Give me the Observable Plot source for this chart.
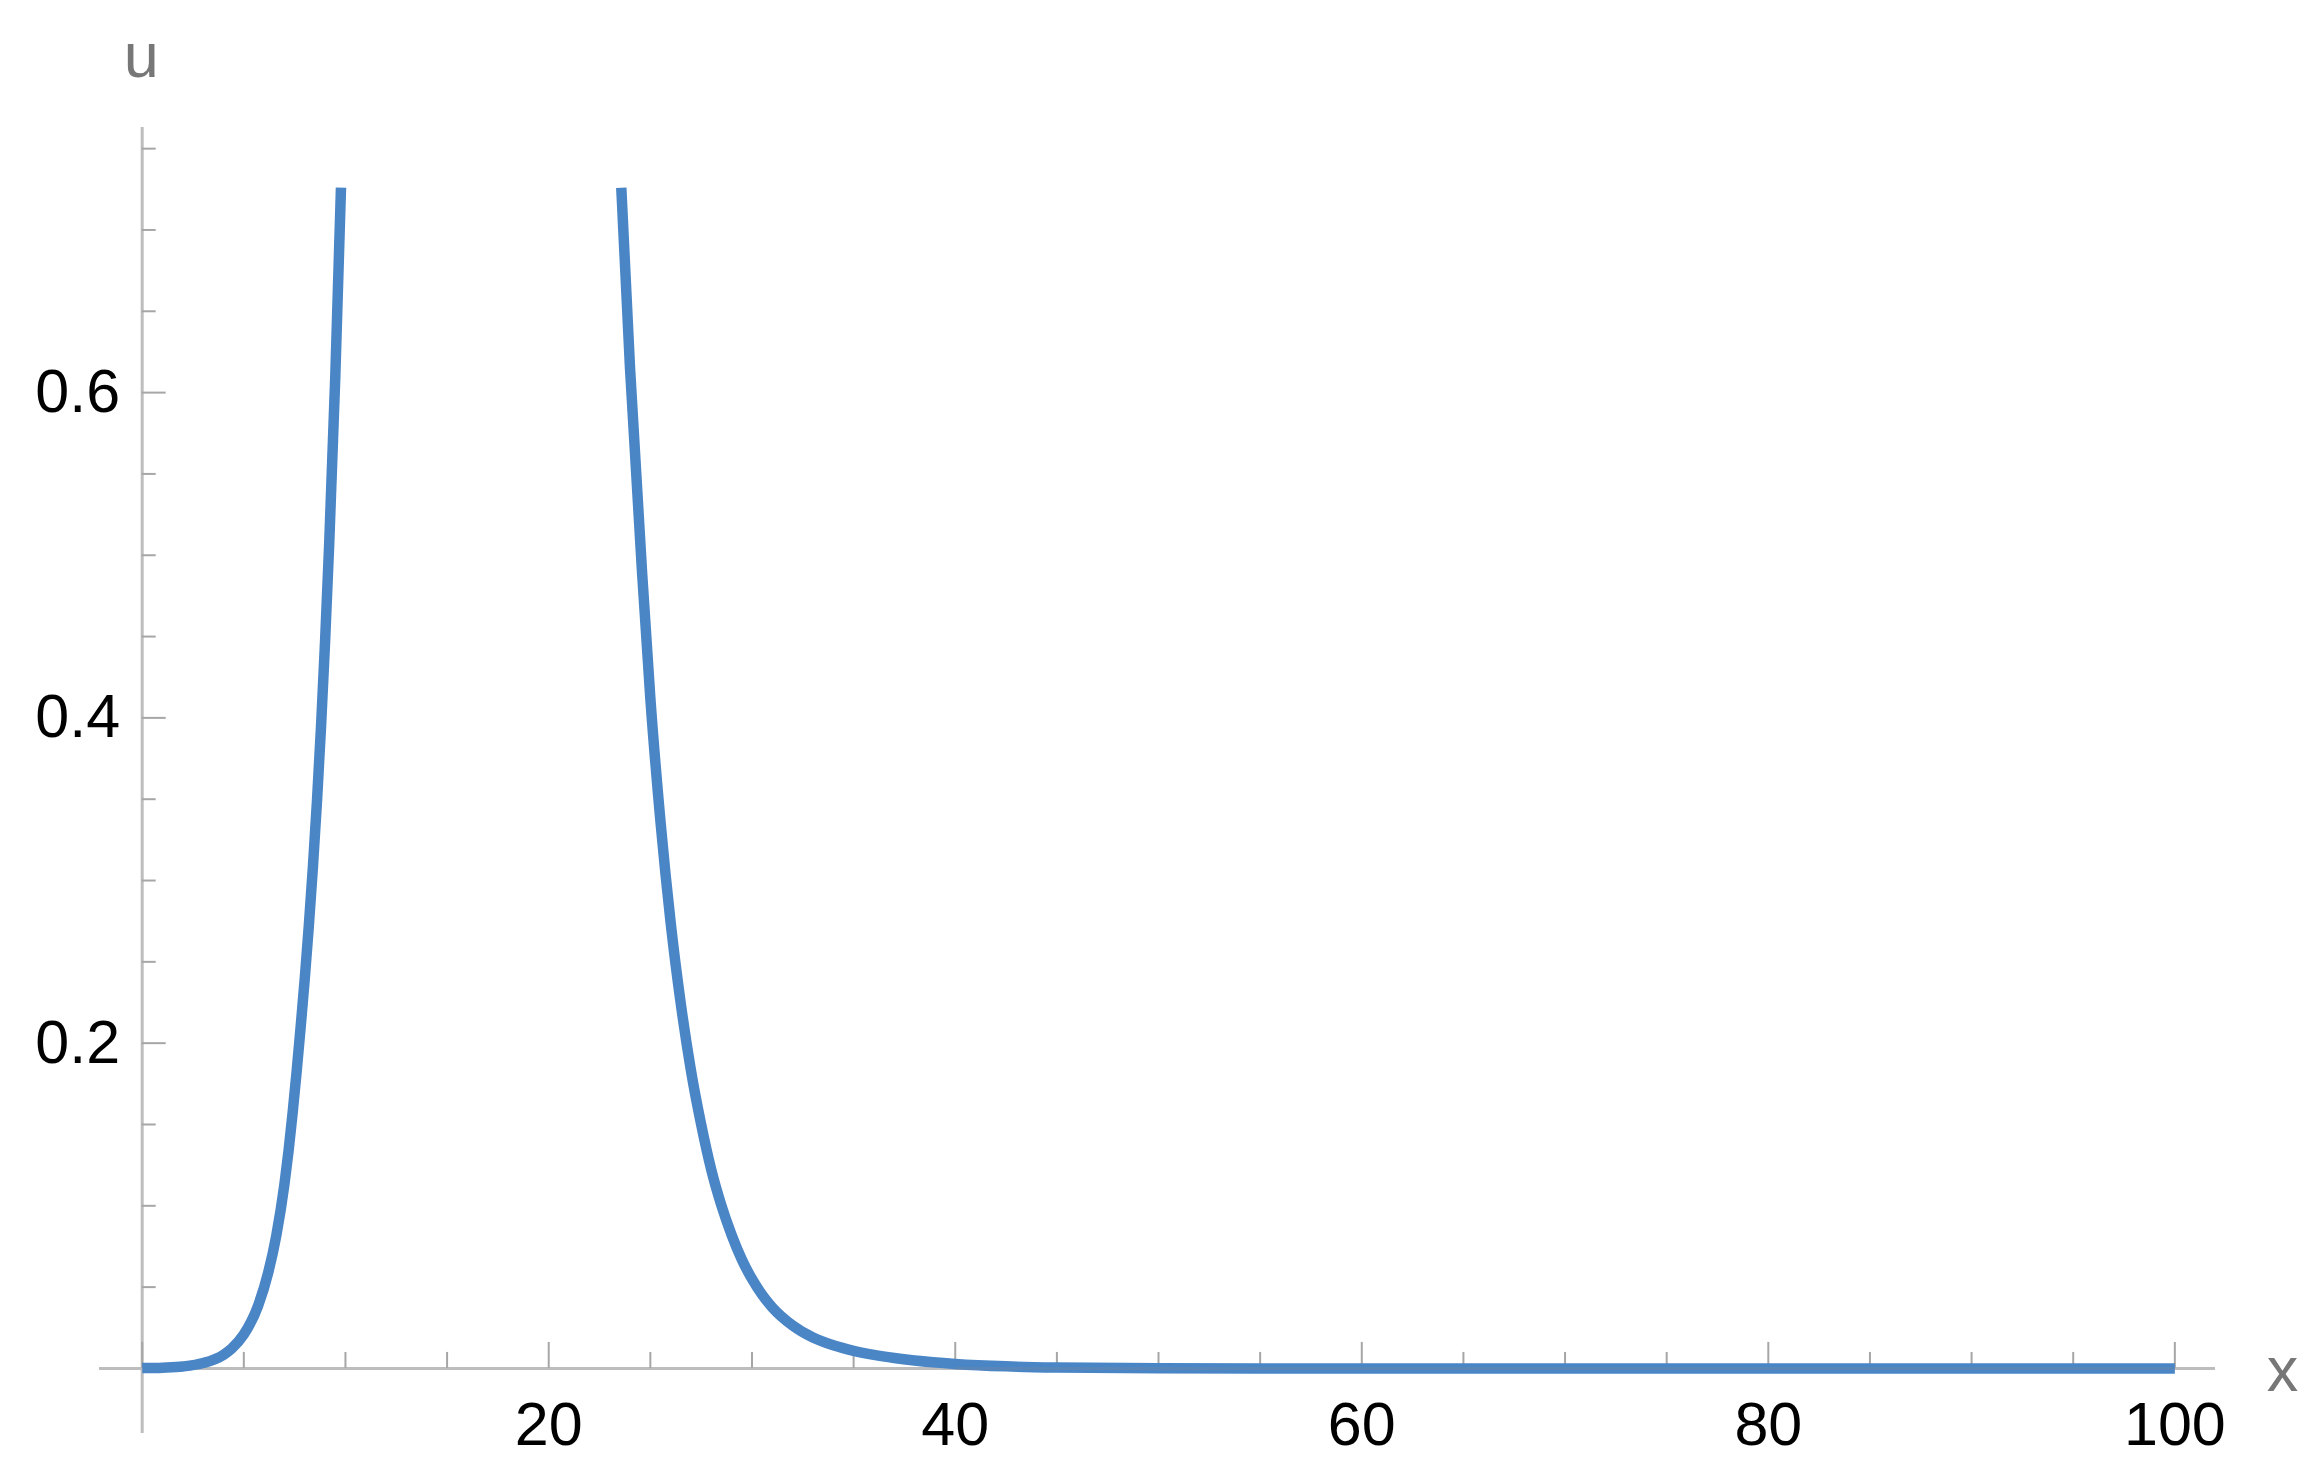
<!DOCTYPE html>
<html>
<head>
<meta charset="utf-8">
<script src="https://cdn.jsdelivr.net/npm/d3@7"></script>
<script src="https://cdn.jsdelivr.net/npm/@observablehq/plot@0.6"></script>
<style>
  html, body { margin: 0; padding: 0; background: #fff; }
  #chart svg { display: block; }
</style>
</head>
<body>
<div id="chart"></div>
<script>
// Left branch of u(x) (rising, clipped at the plot range top)
const xLeft = [0, 1, 2, 3, 4, 4.4, 5.0, 5.7, 6.2, 6.6, 7.0, 7.2, 7.4, 7.6, 7.8, 8.0, 8.2, 8.4, 8.6, 8.8, 9.0, 9.2, 9.5, 9.78];
const uLeft = [0.0002, 0.0005, 0.0012, 0.0033, 0.0084, 0.0122, 0.0209, 0.0385, 0.0589, 0.0818, 0.1135, 0.1337, 0.157, 0.1827, 0.2105, 0.240, 0.2725, 0.3085, 0.349, 0.395, 0.4476, 0.507, 0.610, 0.726];
// Right branch of u(x) (decaying)
const xRight = [23.57, 24.0, 24.6, 25.0, 25.5, 26.0, 26.5, 27.0, 27.5, 28.0, 28.5, 29.0, 29.5, 30.0, 30.5, 31.0, 32.0, 33.0, 34.0, 35.0, 36.0, 37.0, 38.0, 40, 42.5, 45, 50, 55, 60, 70, 80, 90, 100];
const uRight = [0.726, 0.615, 0.488, 0.412, 0.336, 0.274, 0.224, 0.183, 0.150, 0.122, 0.100, 0.082, 0.067, 0.055, 0.0453, 0.0375, 0.0264, 0.019, 0.0142, 0.0108, 0.0083, 0.0064, 0.0049, 0.0028, 0.0013, 0.0006, 0.0001, 0.00002, 0, 0, 0, 0, 0];

// Axis ticks and labels
const xMajor = [0, 20, 40, 60, 80, 100];
const xMinor = [5, 10, 15, 25, 30, 35, 45, 50, 55, 65, 70, 75, 85, 90, 95];
const xLabels = [20, 40, 60, 80, 100];
const yMajor = [0.2, 0.4, 0.6];
const yMinor = [0.05, 0.1, 0.15, 0.25, 0.3, 0.35, 0.45, 0.5, 0.55, 0.65, 0.7, 0.75];
const yLabels = [0.2, 0.4, 0.6];
const xDomain = [-2.1, 102];
const yDomain = [-0.04, 0.763];

const curve = [
  ...xLeft.map((x, i) => ({x, u: uLeft[i], branch: "left"})),
  ...xRight.map((x, i) => ({x, u: uRight[i], branch: "right"}))
];

const font = "'Liberation Sans', Arial, Helvetica, sans-serif";
const axisColor = "#bdbdbd";
const tickColor = "#a6a6a6";
const lineColor = "#4a85c6";

const chart = Plot.plot({
  width: 2316,
  height: 1482,
  marginLeft: 99,
  marginRight: 101,
  marginTop: 127,
  marginBottom: 49,
  style: {fontFamily: font, background: "#fff", overflow: "visible"},
  x: {domain: xDomain, axis: null},
  y: {domain: yDomain, axis: null},
  marks: [
    // axis lines
    Plot.ruleY([0], {stroke: axisColor, strokeWidth: 3}),
    Plot.ruleX([0], {stroke: axisColor, strokeWidth: 3}),
    // x ticks (pointing up)
    Plot.ruleX(xMajor, {x: d => d, y1: () => 0, y2: () => 0, insetTop: -26, stroke: tickColor, strokeWidth: 2}),
    Plot.ruleX(xMinor, {x: d => d, y1: () => 0, y2: () => 0, insetTop: -16, stroke: tickColor, strokeWidth: 2}),
    // y ticks (pointing right)
    Plot.ruleY(yMajor, {y: d => d, x1: () => 0, x2: () => 0, insetRight: -24, stroke: tickColor, strokeWidth: 2}),
    Plot.ruleY(yMinor, {y: d => d, x1: () => 0, x2: () => 0, insetRight: -14, stroke: tickColor, strokeWidth: 2}),
    // curve
    Plot.line(curve, {x: "x", y: "u", z: "branch", stroke: lineColor, strokeWidth: 10.5, curve: "monotone-x", strokeLinecap: "butt", strokeLinejoin: "round"}),
    // faint axis line showing through the curve
    Plot.ruleY([0], {x1: 40, x2: 100, stroke: "#7a8a9a", strokeOpacity: 0.3, strokeWidth: 3}),
    // tick labels
    Plot.text(xLabels, {x: d => d, y: () => 0, text: d => String(d), dy: 77, lineAnchor: "bottom", textAnchor: "middle", fontSize: 61, fill: "#000"}),
    Plot.text(yLabels, {y: d => d, x: () => 0, text: d => d.toFixed(1), dx: -22, lineAnchor: "middle", textAnchor: "end", fontSize: 61, fill: "#000"}),
    // axis labels
    Plot.text(["u"], {x: () => 0, frameAnchor: "top", text: d => d, dx: -1, dy: -51, lineAnchor: "bottom", textAnchor: "middle", fontSize: 63, fill: "#777"}),
    Plot.text(["x"], {y: () => 0, frameAnchor: "right", text: d => d, dx: 67, dy: 23, lineAnchor: "bottom", textAnchor: "middle", fontSize: 63, fill: "#777"})
  ]
});

document.getElementById("chart").appendChild(chart);
</script>
</body>
</html>
